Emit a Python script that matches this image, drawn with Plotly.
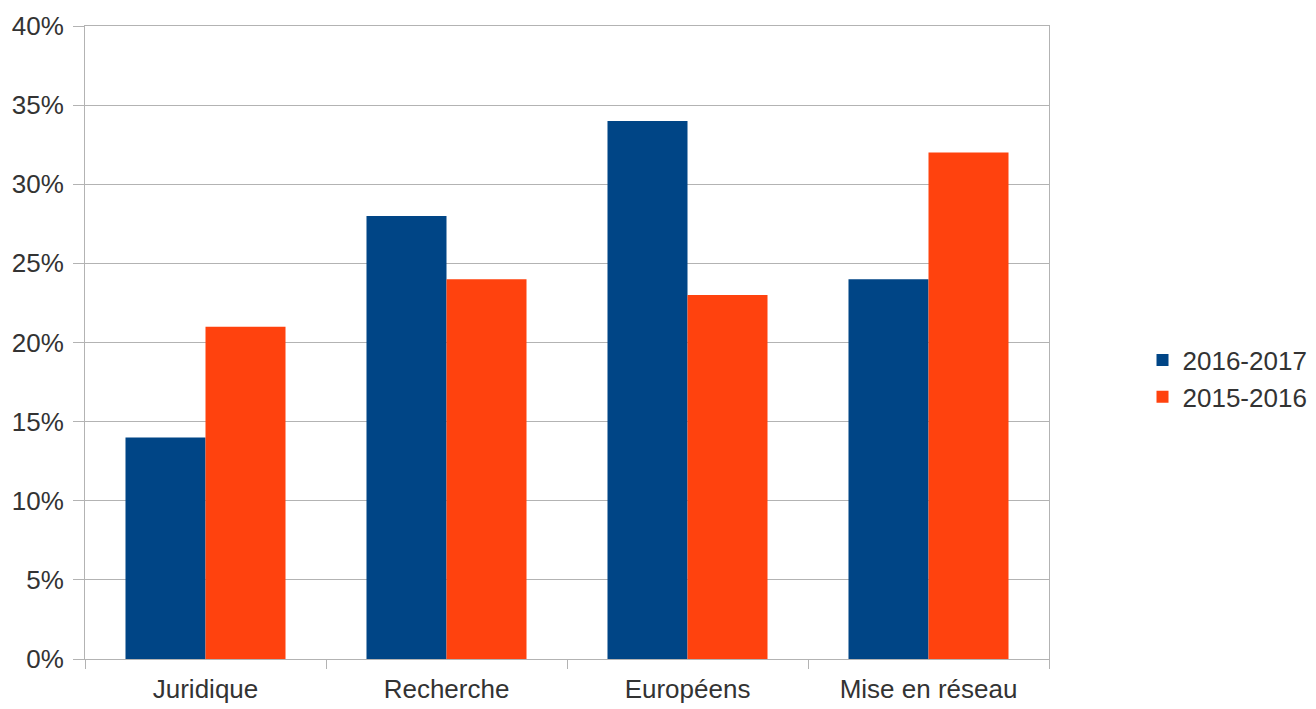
import plotly.graph_objects as go

categories = ["Juridique", "Recherche", "Européens", "Mise en réseau"]
share_2016_2017 = [14, 28, 34, 24]
share_2015_2016 = [21, 24, 23, 32]
y_ticks = [0, 5, 10, 15, 20, 25, 30, 35, 40]
y_tick_labels = [f"{v}%" for v in y_ticks]

font_family = "Liberation Sans, Arial, sans-serif"
grid_color = "#b3b3b3"
text_color = "#333333"

fig = go.Figure()
fig.add_trace(go.Bar(x=categories, y=share_2016_2017, name="2016-2017",
                     marker=dict(color="#004586", line=dict(width=0))))
fig.add_trace(go.Bar(x=categories, y=share_2015_2016, name="2015-2016",
                     marker=dict(color="#ff420e", line=dict(width=0))))

fig.update_layout(
    width=1316, height=709,
    margin=dict(l=85, r=267, t=26, b=50, autoexpand=False),
    paper_bgcolor="white", plot_bgcolor="white",
    barmode="group", bargap=0.336, bargroupgap=0,
    font=dict(family=font_family, size=26, color=text_color),
    showlegend=True,
    legend=dict(x=1.097, y=0.443, xanchor="left", yanchor="middle",
                font=dict(size=26, color=text_color), itemwidth=30,
                bgcolor="rgba(0,0,0,0)"),
)
fig.update_xaxes(
    showgrid=False, showline=True, mirror=True, linecolor=grid_color, linewidth=1,
    ticks="outside", tickson="boundaries", ticklen=9, tickcolor=grid_color,
    ticklabelstandoff=7,
    tickfont=dict(size=26, color=text_color), zeroline=False,
)
fig.update_yaxes(
    range=[0, 40], tickvals=y_ticks, ticktext=y_tick_labels,
    showgrid=True, gridcolor=grid_color, gridwidth=1,
    showline=True, mirror=True, linecolor=grid_color, linewidth=1,
    ticks="outside", ticklen=11, tickcolor=grid_color,
    ticklabelstandoff=4,
    tickfont=dict(size=26, color=text_color), zeroline=False,
)

fig.write_html("out.html")
